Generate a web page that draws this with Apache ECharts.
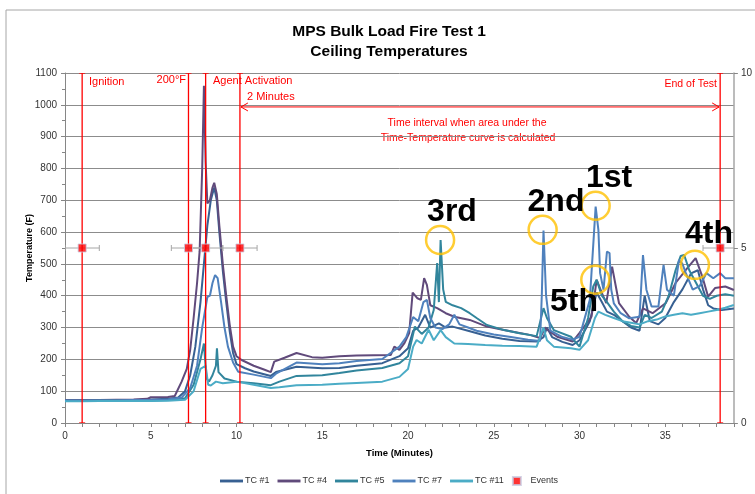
<!DOCTYPE html>
<html><head><meta charset="utf-8">
<script src="https://cdn.jsdelivr.net/npm/echarts@6/dist/echarts.min.js"></script>
<style>html,body{margin:0;padding:0;background:#fff}#c{width:755px;height:494px}</style>
</head><body><div id="c"></div>
<script>
// ---- data: [time (min), temperature (F)] ----
const tc1 = [[0,71],[1,71],[2,72],[3,72],[4,72],[5,74],[6,76],[6.6,80],[7.0,100],[7.3,150],[7.6,240],[7.9,380],[8.1,500],[8.3,620],[8.5,700],[8.7,740],[8.85,700],[9.0,600],[9.2,480],[9.4,380],[9.6,290],[9.8,220],[10.0,185],[10.5,172],[11,162],[12,148],[12.3,160],[13.5,177],[15,172],[16,173],[17,180],[18.5,188],[19.5,210],[20,235],[20.3,290],[20.6,300],[21,340],[21.3,300],[21.8,313],[22.2,300],[22.6,303],[23.5,290],[24.5,275],[25.5,265],[26.5,258],[27.5,256],[27.9,270],[28.1,300],[28.4,270],[29,255],[29.6,245],[30,260],[30.6,320],[31.0,410],[31.3,380],[31.6,350],[32,340],[32.5,320],[33,300],[33.5,290],[33.8,400],[34.1,320],[34.6,310],[35,330],[35.5,380],[36,420],[36.5,470],[36.9,480],[37.2,420],[37.5,370],[37.8,360],[38.3,355],[39,360]];
const tc4 = [[0,72],[1,72],[2,72],[3,73],[4,74],[4.8,76],[5,81],[6,82],[6.4,85],[6.8,130],[7.1,170],[7.3,230],[7.5,330],[7.7,440],[7.85,540],[8.0,800],[8.1,1060],[8.2,820],[8.3,690],[8.45,700],[8.6,740],[8.7,755],[8.85,720],[9.0,620],[9.2,500],[9.4,400],[9.6,310],[9.8,240],[10.0,210],[10.3,198],[11.0,180],[11.6,168],[12.0,160],[12.2,193],[12.8,205],[13.5,220],[14.4,207],[15,205],[16,210],[17,212],[18,213],[19,214],[19.2,240],[19.5,230],[19.8,252],[20.07,283],[20.27,410],[20.55,392],[20.75,387],[20.94,455],[21.1,434],[21.3,370],[21.7,361],[22.2,345],[22.7,334],[23.6,324],[24.6,303],[25.6,292],[26.5,283],[27.1,277],[27.7,267],[28.0,300],[28.2,290],[28.7,271],[29.6,256],[30.0,283],[30.7,334],[31.0,450],[31.3,409],[31.56,377],[31.9,491],[32.3,377],[32.9,334],[33.3,314],[33.7,360],[34.26,345],[35.03,377],[35.6,440],[36.2,481],[36.77,518],[37.16,460],[37.5,397],[37.9,424],[38.5,429],[39,418]];
const tc5 = [[0,70],[1,70],[2,71],[3,71],[4,71],[5,71],[6,72],[7,78],[7.5,120],[7.9,200],[8.1,250],[8.25,140],[8.4,130],[8.6,150],[8.8,180],[8.86,235],[8.95,160],[9.3,140],[10,130],[11,125],[12,119],[12.5,130],[13.5,148],[15,150],[16,157],[17,165],[18.5,173],[19.5,188],[20,210],[20.4,303],[20.8,280],[21.2,300],[21.5,355],[21.7,503],[21.8,380],[21.9,575],[22.05,420],[22.2,381],[22.6,370],[23.1,361],[23.6,345],[24.0,330],[24.6,308],[25.6,292],[26.5,282],[27.5,273],[27.9,361],[28.1,330],[28.5,292],[29.5,271],[30,240],[30.5,330],[30.8,429],[31.0,450],[31.3,400],[31.6,380],[32,350],[32.5,320],[33,305],[33.5,300],[33.8,340],[34.2,330],[34.8,350],[35.2,400],[35.6,480],[35.9,525],[36.1,528],[36.4,480],[36.8,440],[37.2,400],[37.6,390],[38.0,400],[38.5,405],[39,400]];
const tc7 = [[0,71],[1,71],[2,71],[3,71],[4,72],[5,72],[6,74],[6.8,80],[7.3,110],[7.7,180],[8.0,300],[8.3,396],[8.45,400],[8.6,440],[8.75,465],[8.9,455],[9.1,380],[9.3,300],[9.5,240],[9.8,190],[10.1,161],[11,152],[12,141],[12.3,155],[13.5,190],[15,185],[16,188],[17,195],[18.5,201],[19.5,240],[19.9,270],[20.3,333],[20.6,320],[20.9,380],[21.1,387],[21.3,330],[21.6,300],[22,295],[22.4,310],[22.7,340],[23,310],[23.5,300],[24,290],[25,278],[26,270],[27,262],[27.7,258],[27.8,400],[27.9,605],[28.05,400],[28.3,290],[29,270],[29.6,262],[30,271],[30.6,387],[30.94,680],[31.1,607],[31.2,471],[31.4,419],[31.6,539],[31.75,534],[31.85,419],[32.0,376],[32.4,345],[32.9,329],[33.5,334],[33.7,528],[33.9,419],[34.2,366],[34.6,366],[34.9,497],[35.1,419],[35.5,400],[35.8,513],[36.0,500],[36.2,471],[36.6,419],[37.0,430],[37.4,471],[37.8,455],[38.2,471],[38.5,455],[39,455]];
const tc11 = [[0,68],[1,68],[2,69],[3,69],[4,69],[5,69],[6,70],[7,73],[7.5,100],[7.9,170],[8.2,180],[8.35,120],[8.5,118],[8.8,130],[9.2,125],[10,130],[11,120],[12,110],[12.5,112],[13.5,119],[15,120],[16,123],[17,126],[18.5,130],[19.5,145],[20,170],[20.3,240],[20.5,261],[20.8,250],[21.2,293],[21.5,260],[21.9,292],[22.2,270],[22.7,250],[23.5,248],[24.5,245],[25.5,243],[26.5,242],[27.5,240],[27.9,300],[28.1,260],[28.5,240],[29.5,235],[30,230],[30.5,260],[30.9,330],[31.1,350],[31.5,340],[32,330],[32.5,320],[33,315],[33.5,310],[34,320],[34.5,325],[35,335],[35.5,340],[36,345],[36.5,340],[37,345],[37.5,350],[38,355],[38.5,362],[39,371]];
const eventTimes = [1.0, 7.2, 8.2, 10.2, 38.2];
const eventLevel = 5;
const eventError = 1;
const intervalRange = [10.2, 38.2, 9.03];
const highlightPeaks = [[21.87,575],[27.85,607],[30.94,683],[30.92,450],[36.73,497]];
const xTicks = {min:0, max:39, interval:5};
const yTicks = {min:0, max:1100, interval:100};
const y2Ticks = {min:0, max:10, interval:5};

const FONT = 'Liberation Sans';
const red = '#ff0000';
const lineIcon = 'path://M0,0L24,0L24,3L0,3Z';
const chart = echarts.init(document.getElementById('c'));
function lineSeries(name, data, color){
  return {name, type:'line', data, symbol:'none', smooth:false,
    lineStyle:{width:2, color}, itemStyle:{color}, z:3};
}
const option = {
  animation:false,
  backgroundColor:'#fff',
  textStyle:{fontFamily:FONT},
  title:{text:'MPS Bulk Load Fire Test 1\nCeiling Temperatures', left:384, textAlign:'center', top:17,
    textStyle:{fontFamily:FONT, fontSize:15.5, fontWeight:'bold', color:'#000', lineHeight:20}},
  grid:{left:65, right:16, top:73, bottom:71, containLabel:false},
  legend:{top:471, left:215, itemWidth:23, itemHeight:8, itemGap:8, symbolKeepAspect:true,
    textStyle:{fontSize:9, color:'#333', fontFamily:FONT, padding:[0,0,0,-3]},
    data:[{name:'TC #1',icon:lineIcon},{name:'TC #4',icon:lineIcon},{name:'TC #5',icon:lineIcon},{name:'TC #7',icon:lineIcon},{name:'TC #11',icon:lineIcon},{name:'Events', icon:'path://M0,0L6,0L6,6L0,6Z'}]},
  xAxis:{type:'value', min:xTicks.min, max:xTicks.max, interval:xTicks.interval,
    name:'Time (Minutes)', nameLocation:'middle', nameGap:25,
    nameTextStyle:{fontSize:9.5, fontWeight:'bold', color:'#000'},
    axisLine:{show:true, lineStyle:{color:'#868686'}},
    axisTick:{show:true, length:4, lineStyle:{color:'#868686'}},
    minorTick:{show:true, splitNumber:5, length:4, lineStyle:{color:'#868686'}},
    axisLabel:{fontSize:10, color:'#333', showMaxLabel:false, margin:8},
    splitLine:{show:false}},
  yAxis:[{type:'value', min:yTicks.min, max:yTicks.max, interval:yTicks.interval,
    name:'Temperature (F)', nameLocation:'middle', nameGap:31, nameRotate:90, nameMoveOverlap:false,
    nameTextStyle:{fontSize:9, fontWeight:'bold', color:'#000'},
    axisLine:{show:true, lineStyle:{color:'#868686'}},
    axisTick:{show:true, length:4, lineStyle:{color:'#868686'}},
    minorTick:{show:true, splitNumber:2, length:3, lineStyle:{color:'#868686'}},
    axisLabel:{fontSize:10, color:'#333', margin:8, formatter:v=>String(v)},
    splitLine:{show:true, lineStyle:{color:'#8c8c8c', width:1}}},
   {type:'value', min:y2Ticks.min, max:y2Ticks.max, interval:y2Ticks.interval, position:'right',
    axisLine:{show:true, lineStyle:{color:'#a6a6a6', width:1.5}},
    axisTick:{show:true, length:4, lineStyle:{color:'#868686'}},
    axisLabel:{fontSize:10, color:'#333', margin:7},
    splitLine:{show:false}}],
  series:[
    lineSeries('TC #1', tc1, '#376092'),
    lineSeries('TC #4', tc4, '#604a7b'),
    lineSeries('TC #5', tc5, '#31859c'),
    lineSeries('TC #7', tc7, '#4f81bd'),
    lineSeries('TC #11', tc11, '#4bacc6'),
    {type:'custom', name:'EventBars', yAxisIndex:1, z:5, clip:true,
     data:eventTimes.map(t=>[t,eventLevel]),
     renderItem(params, api){
       const t=api.value(0), v=api.value(1);
       const top=api.coord([t,y2Ticks.max]), bot=api.coord([t,y2Ticks.min]);
       const l=api.coord([t-eventError,v]), r=api.coord([t+eventError,v]);
       const g={stroke:'#a6a6a6', lineWidth:1}, rs={stroke:red, lineWidth:1.3};
       return {type:'group', children:[
         {type:'line', shape:{x1:l[0],y1:l[1],x2:r[0],y2:r[1]}, style:g},
         {type:'line', shape:{x1:l[0],y1:l[1]-3,x2:l[0],y2:l[1]+3}, style:g},
         {type:'line', shape:{x1:r[0],y1:r[1]-3,x2:r[0],y2:r[1]+3}, style:g},
         {type:'line', shape:{x1:top[0],y1:top[1],x2:bot[0],y2:bot[1]}, style:rs},
         {type:'line', shape:{x1:top[0]-3,y1:top[1],x2:top[0]+3,y2:top[1]}, style:rs},
         {type:'line', shape:{x1:bot[0]-3,y1:bot[1],x2:bot[0]+3,y2:bot[1]}, style:rs}
       ]};
     }},
    {type:'custom', name:'Interval', yAxisIndex:1, z:5, clip:false,
     data:[intervalRange],
     renderItem(params, api){
       const a=api.coord([api.value(0),api.value(2)]), b=api.coord([api.value(1),api.value(2)]);
       const s={stroke:red, lineWidth:1, fill:null};
       return {type:'group', children:[
         {type:'line', shape:{x1:a[0]+1,y1:a[1],x2:b[0]-1,y2:b[1]}, style:s},
         {type:'polyline', shape:{points:[[a[0]+8,a[1]-4],[a[0]+1,a[1]],[a[0]+8,a[1]+4]]}, style:s},
         {type:'polyline', shape:{points:[[b[0]-8,b[1]-4],[b[0]-1,b[1]],[b[0]-8,b[1]+4]]}, style:s}
       ]};
     }},
    {name:'Events', type:'scatter', yAxisIndex:1, z:6, symbol:'rect', symbolSize:8,
     data:eventTimes.map(t=>[t,eventLevel]),
     itemStyle:{color:red, borderColor:'#c9c9e0', borderWidth:1}},
    {name:'Highlights', type:'scatter', z:7, symbol:'circle', symbolSize:28,
     data:highlightPeaks,
     itemStyle:{color:'rgba(0,0,0,0)', borderColor:'#ffc000', borderWidth:2.5}}
  ],
  graphic:[
    {type:'rect', shape:{x:6,y:10,width:800,height:600}, style:{fill:null, stroke:'#a6a6a6', lineWidth:1}, silent:true, z:-1},
    {type:'text', x:89, y:82, style:{text:'Ignition', fill:red, font:'11px '+FONT, textVerticalAlign:'middle'}},
    {type:'text', x:186, y:80, style:{text:'200°F', fill:red, font:'11px '+FONT, textAlign:'right', textVerticalAlign:'middle'}},
    {type:'text', x:213, y:81, style:{text:'Agent Activation', fill:red, font:'11px '+FONT, textVerticalAlign:'middle'}},
    {type:'text', x:247, y:97, style:{text:'2 Minutes', fill:red, font:'11px '+FONT, textVerticalAlign:'middle'}},
    {type:'text', x:717, y:84, style:{text:'End of Test', fill:red, font:'10.5px '+FONT, textAlign:'right', textVerticalAlign:'middle'}},
    {type:'text', x:467, y:123, style:{text:'Time interval when area under the', fill:red, font:'10.5px '+FONT, textAlign:'center', textVerticalAlign:'middle'}},
    {type:'text', x:468, y:138, style:{text:'Time-Temperature curve is calculated', fill:red, font:'10.5px '+FONT, textAlign:'center', textVerticalAlign:'middle'}},
    {type:'text', x:452, y:212, style:{text:'3rd', fill:'#000', font:'bold 32px '+FONT, textAlign:'center', textVerticalAlign:'middle'}, z:8},
    {type:'text', x:556, y:202, style:{text:'2nd', fill:'#000', font:'bold 32px '+FONT, textAlign:'center', textVerticalAlign:'middle'}, z:8},
    {type:'text', x:609, y:178, style:{text:'1st', fill:'#000', font:'bold 32px '+FONT, textAlign:'center', textVerticalAlign:'middle'}, z:8},
    {type:'text', x:709, y:234, style:{text:'4th', fill:'#000', font:'bold 32px '+FONT, textAlign:'center', textVerticalAlign:'middle'}, z:8},
    {type:'text', x:574, y:302, style:{text:'5th', fill:'#000', font:'bold 32px '+FONT, textAlign:'center', textVerticalAlign:'middle'}, z:8}
  ]
};
chart.setOption(option);
</script></body></html>
